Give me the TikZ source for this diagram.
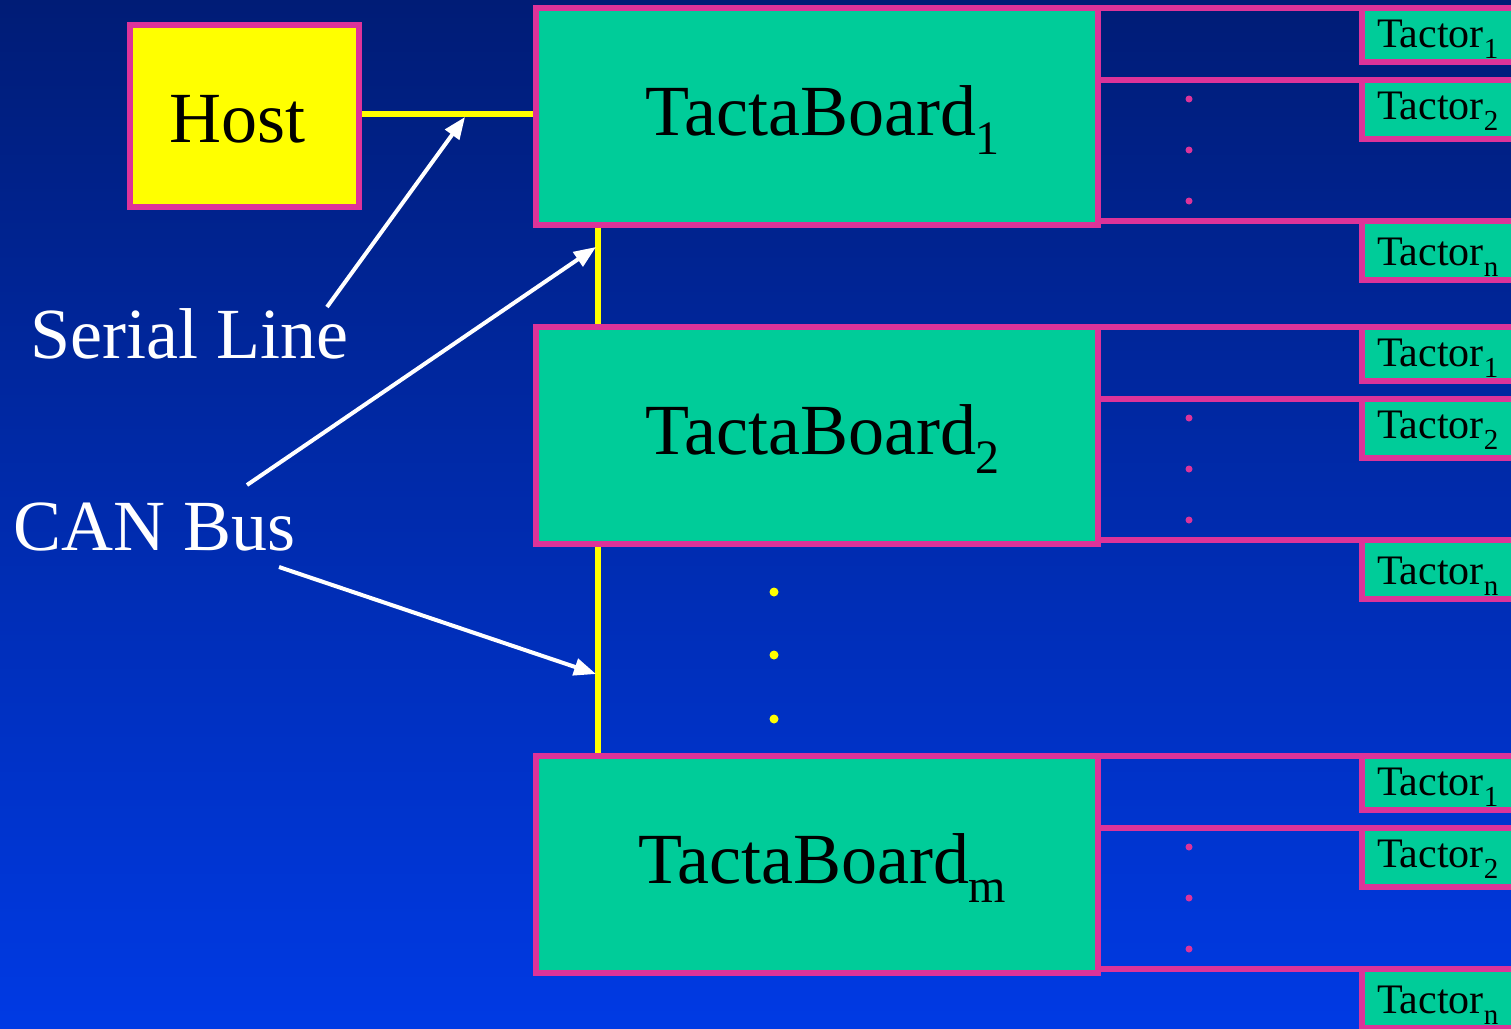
\documentclass[tikz,border=0pt]{standalone}
\usepackage{fontspec}
\setmainfont{Liberation Serif}
\usetikzlibrary{arrows.meta,calc}

\definecolor{bgtop}{RGB}{0,28,118}
\definecolor{bgmid}{RGB}{0,46,186}
\definecolor{bgbot}{RGB}{0,58,228}
\definecolor{boardteal}{RGB}{0,204,153}
\definecolor{edgepink}{RGB}{221,51,153}
\definecolor{busyellow}{RGB}{255,255,0}

% lowered, smaller indices for board and tactor names
\newcommand\boardsub[1]{\raisebox{-19bp}{\fontsize{48bp}{52bp}\selectfont #1}}
\newcommand\tactsub[1]{\raisebox{-11bp}{\fontsize{29bp}{32bp}\selectfont #1}}

\begin{document}
\begin{tikzpicture}[x=1bp,y=-1bp,
  boardbox/.style={draw=edgepink, fill=boardteal, line width=6bp,
    minimum width=562.5bp, minimum height=217bp, inner sep=0pt,
    outer sep=0pt, anchor=north west},
  tactbox/.style={draw=edgepink, fill=boardteal, line width=6bp,
    minimum width=200bp, inner sep=0pt, outer sep=0pt, anchor=north west},
  hostbox/.style={draw=edgepink, fill=busyellow, line width=6bp,
    minimum width=229bp, minimum height=182bp, inner sep=0pt,
    outer sep=0pt, anchor=north west},
  boardtext/.style={inner sep=0pt, anchor=base west, text=black,
    font=\fontsize{72bp}{78bp}\selectfont},
  tacttext/.style={inner sep=0pt, anchor=base west, text=black,
    font=\fontsize{42bp}{46bp}\selectfont},
  hosttext/.style={inner sep=0pt, anchor=base west, text=black,
    font=\fontsize{72bp}{80bp}\selectfont},
  labeltext/.style={inner sep=0pt, anchor=base west, text=white,
    font=\fontsize{72bp}{80bp}\selectfont},
  pinkline/.style={draw=edgepink, line width=6bp},
  yline/.style={draw=busyellow, line width=6bp},
  pointer/.style={draw=white, line width=4bp,
    -{Triangle[length=22bp,width=17bp]}},
]
% page and backdrop
\useasboundingbox (0,0) rectangle (1511,1028);
\clip (0,0) rectangle (1511,1028);
\shade[top color=bgtop, middle color=bgmid, bottom color=bgbot]
  (0,0) rectangle (1511,1028);

% host computer
\node[hostbox] (host) at (130,25) {};
\node[hosttext] (hostlabel) at (169,142) {Host};

% boards, each with its tactor outputs
\foreach \b/\T/\tx in {1/8/645, 2/327/645, m/756/638}{
  \node[boardbox] (b\b) at (535.5,\T) {};
  \node[boardtext] (b\b label) at (\tx,\T+127) {TactaBoard\boardsub{\b}};
  \node[tactbox, minimum height=54bp] (t\b-1) at (1362,\T) {};
  \node[tactbox, minimum height=59bp] (t\b-2) at (1362,\T+72) {};
  \node[tactbox, minimum height=59bp] (t\b-n) at (1362,\T+213) {};
  \draw[pinkline] (b\b.north east) -- (t\b-1.north west);
  \draw[pinkline] (b\b.east |- t\b-2.north) -- (t\b-2.north west);
  \draw[pinkline] (b\b.east |- t\b-n.north) -- (t\b-n.north west);
  \foreach \dy in {91,142,193}
    \fill[edgepink] (1189,\T+\dy) circle (3.5bp);
  \node[tacttext] (t\b-1 label) at (1377,\T+39) {Tactor\tactsub{1}};
  \node[tacttext] (t\b-2 label) at (1377,\T+111) {Tactor\tactsub{2}};
  \node[tacttext] (t\b-n label) at (1377,\T+257) {Tactor\tactsub{n}};
}

% serial line and CAN bus
\coordinate (serialy) at (0,114);
\coordinate (busx) at (598,0);
\draw[yline, shorten <=3bp, shorten >=3bp]
  (host.east |- serialy) -- (b1.west |- serialy);
\draw[yline, shorten <=3bp, shorten >=3bp]
  (b1.south -| busx) -- (b2.north -| busx);
\draw[yline, shorten <=3bp, shorten >=3bp]
  (b2.south -| busx) -- (bm.north -| busx);
\foreach \y in {592,655,719}
  \fill[busyellow] (774,\y) circle (4.5bp);

% annotations
\node[labeltext] (serial) at (30,358) {Serial Line};
\node[labeltext] (canbus) at (13,550) {CAN Bus};
\coordinate (sltail) at (327,307);
\coordinate (sltip) at (465,117);
\coordinate (can1tail) at (247,485);
\coordinate (can1tip) at (596,247);
\coordinate (can2tail) at (279,567);
\coordinate (can2tip) at (596,674);
\draw[pointer] (sltail) -- (sltip);
\draw[pointer] (can1tail) -- (can1tip);
\draw[pointer] (can2tail) -- (can2tip);
\end{tikzpicture}
\end{document}
